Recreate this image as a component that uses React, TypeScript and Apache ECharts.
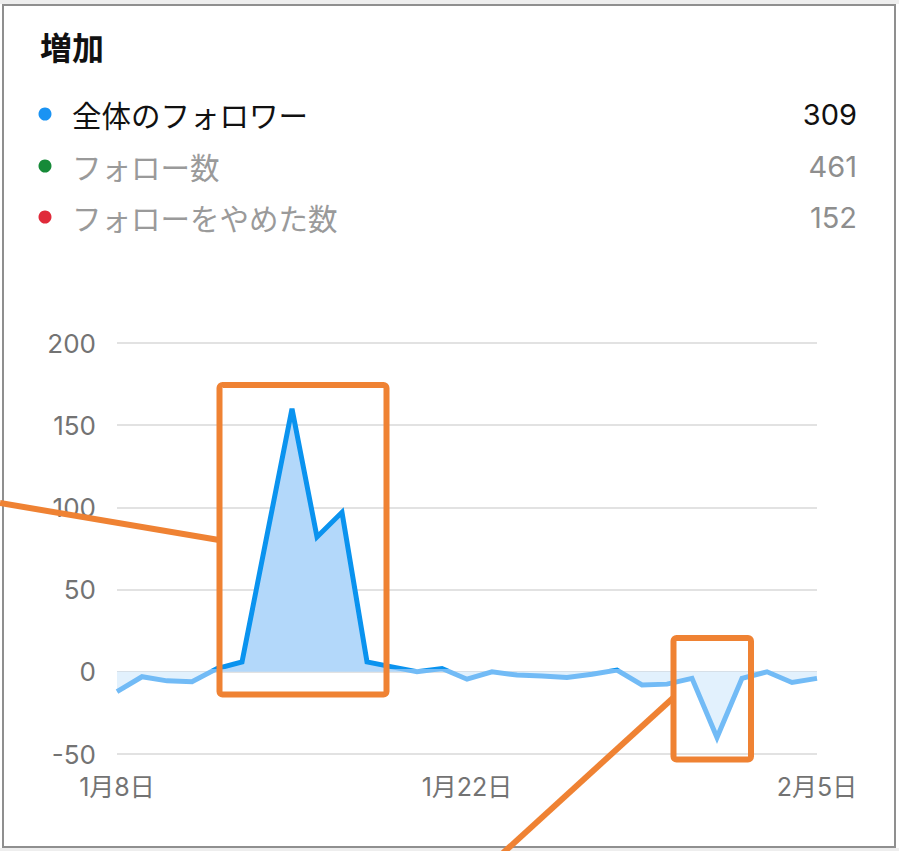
import React, { useEffect, useRef } from "react";
import * as echarts from "echarts";

const categories = [
  "1月8日", "1月9日", "1月10日", "1月11日", "1月12日", "1月13日", "1月14日",
  "1月15日", "1月16日", "1月17日", "1月18日", "1月19日", "1月20日", "1月21日",
  "1月22日", "1月23日", "1月24日", "1月25日", "1月26日", "1月27日", "1月28日",
  "1月29日", "1月30日", "1月31日", "2月1日", "2月2日", "2月3日", "2月4日", "2月5日",
];

const netFollowers = [
  -12, -3, -5.5, -6, 2, 6, 83, 160, 82, 97, 6, 3, 0, 2, -4.5,
  0, -2, -2.5, -3.5, -1.5, 1, -8, -7.5, -4, -40, -4, 0, -6.5, -4,
];

const legendLabels = ["全体のフォロワー", "フォロー数", "フォローをやめた数"];
const legendValues = ["309", "461", "152"];
const legendDotColors = ["#1a93f3", "#168a38", "#e02a3a"];
const legendTextColors = ["#111111", "#9a9a9a", "#9a9a9a"];

const title = "増加";
const yMin = -50;
const yMax = 200;
const yInterval = 50;

const CJK = "'Noto Sans CJK JP'";
const NUM = "Inter, 'Noto Sans CJK JP'";
const ORANGE = "#ef8233";

export default function App() {
  const ref = useRef<HTMLDivElement>(null);

  useEffect(() => {
    document.body.style.margin = "0";
    if (!ref.current) return;
    const chart = echarts.init(ref.current, undefined, { renderer: "svg" });

    const graphics: any[] = [];
    graphics.push({ type: "rect", z: 0, silent: true, shape: { x: 0, y: 0, width: 899, height: 4 }, style: { fill: "#eeeeee" } });
    graphics.push({ type: "rect", z: 0, silent: true, shape: { x: 0, y: 848, width: 899, height: 3 }, style: { fill: "#eeeeee" } });
    graphics.push({
      type: "rect", z: 0, silent: true,
      shape: { x: 3, y: 5, width: 892, height: 842 },
      style: { fill: "none", stroke: "#8f8f8f", lineWidth: 2 },
    });
    graphics.push({
      type: "text", z: 10,
      style: { text: title, x: 40, y: 46, font: `bold 32px ${CJK}`, fill: "#111111", textAlign: "left", textVerticalAlign: "middle" },
    });
    const rowY = [114, 166, 217];
    legendLabels.forEach((lab, i) => {
      graphics.push({ type: "circle", z: 10, shape: { cx: 45, cy: rowY[i], r: 6.5 }, style: { fill: legendDotColors[i] } });
      graphics.push({
        type: "text", z: 10,
        style: { text: lab, x: 72, y: rowY[i], font: `29.5px ${CJK}`, fill: legendTextColors[i], textAlign: "left", textVerticalAlign: "middle" },
      });
      graphics.push({
        type: "text", z: 10,
        style: { text: legendValues[i], x: 857, y: rowY[i], font: `29px ${NUM}`, fill: i === 0 ? "#111111" : "#8e8e8e", textAlign: "right", textVerticalAlign: "middle" },
      });
    });
    graphics.push({
      type: "rect", z: 100, silent: true,
      shape: { x: 219.5, y: 385, width: 167, height: 309.5, r: 3 },
      style: { fill: "none", stroke: ORANGE, lineWidth: 6 },
    });
    graphics.push({
      type: "rect", z: 100, silent: true,
      shape: { x: 673.5, y: 638, width: 77.5, height: 121.5, r: 3 },
      style: { fill: "none", stroke: ORANGE, lineWidth: 6 },
    });
    graphics.push({
      type: "line", z: 100, silent: true,
      shape: { x1: 0, y1: 503, x2: 219, y2: 540 },
      style: { stroke: ORANGE, lineWidth: 6 },
    });
    graphics.push({
      type: "line", z: 100, silent: true,
      shape: { x1: 673, y1: 698, x2: 503, y2: 853 },
      style: { stroke: ORANGE, lineWidth: 6 },
    });

    chart.setOption({
      animation: false,
      backgroundColor: "#ffffff",
      grid: { left: 117, right: 82, top: 343, bottom: 97, containLabel: false },
      xAxis: {
        type: "category",
        data: categories,
        boundaryGap: false,
        axisLine: { show: false, onZero: false },
        axisTick: { show: false },
        axisLabel: { interval: 13, fontSize: 25, color: "#737373", margin: 20, fontFamily: NUM },
        splitLine: { show: false },
      },
      yAxis: {
        type: "value",
        min: yMin,
        max: yMax,
        interval: yInterval,
        axisLine: { show: false },
        axisTick: { show: false },
        axisLabel: { fontSize: 26, color: "#737373", margin: 21, fontFamily: NUM },
        splitLine: { lineStyle: { color: "#e2e2e2", width: 2 } },
      },
      visualMap: [
        {
          show: false,
          type: "piecewise",
          seriesIndex: 0,
          dimension: 1,
          pieces: [
            { gt: -1000, lte: 0, color: "#e2f1fd" },
            { gt: 0, lte: 1000, color: "#b3d8fa" },
          ],
        },
        {
          show: false,
          type: "piecewise",
          seriesIndex: 1,
          dimension: 1,
          pieces: [
            { gt: -1000, lte: 1.5, color: "#72bbf6" },
            { gt: 1.5, lte: 1000, color: "#0a93ef" },
          ],
        },
      ],
      series: [
        {
          type: "line",
          data: netFollowers,
          symbol: "none",
          z: 2,
          lineStyle: { width: 0 },
          areaStyle: { opacity: 1 },
          silent: true,
        },
        {
          type: "line",
          data: netFollowers,
          symbol: "none",
          z: 3,
          lineStyle: { width: 5, join: "miter", miterLimit: 10 },
          silent: true,
        },
      ],
      graphic: { elements: graphics },
    });

    return () => chart.dispose();
  }, []);

  return <div ref={ref} style={{ width: 899, height: 851 }} />;
}
